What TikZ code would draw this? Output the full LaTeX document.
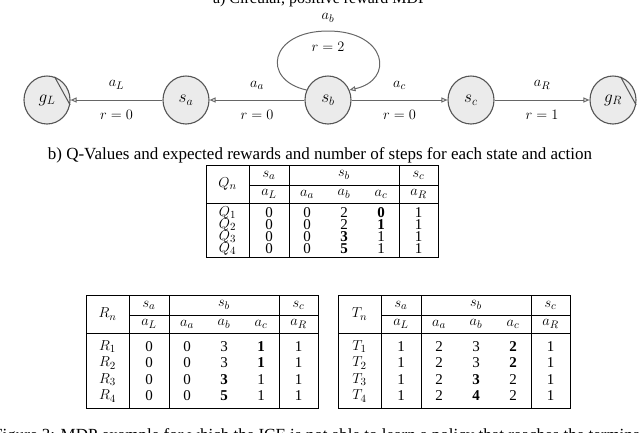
\documentclass[tikz,border=0pt]{standalone}
\usepackage{fontspec}
\setmainfont{Liberation Serif}
\usetikzlibrary{arrows.meta,shapes.geometric}
\definecolor{statefill}{HTML}{EBEBEB}
\definecolor{stateline}{HTML}{555555}
\definecolor{edgegray}{HTML}{666666}
\tikzset{
  state/.style={ellipse, draw=stateline, fill=statefill, line width=1.1pt,
    minimum width=46pt, minimum height=48pt, inner sep=0pt,
    font=\fontsize{17}{19}\selectfont},
  edge/.style={draw=edgegray, line width=1pt,
    -{Triangle[open,length=6pt,width=5pt]}},
  elabel/.style={inner sep=0pt, font=\fontsize{15}{17}\selectfont},
  cell/.style={inner sep=0pt, anchor=center, font=\fontsize{15}{17}\selectfont},
  tline/.style={line width=0.7pt, black},
}
\newcommand\trow[8]{%
  \node[cell] (#1-1) at (21.5,#2) {#3};
  \node[cell] (#1-2) at (63,#2) {#4};
  \node[cell] (#1-3) at (101,#2) {#5};
  \node[cell] (#1-4) at (138,#2) {#6};
  \node[cell] (#1-5) at (175,#2) {#7};
  \node[cell] (#1-6) at (212.5,#2) {#8};
}
\newcommand\thead[3]{% name, letter, height
  \draw[tline] (0,0) rectangle (232,#3);
  \draw[tline] (43,0) -- (43,#3);
  \draw[tline] (83,0) -- (83,#3);
  \draw[tline] (193,0) -- (193,#3);
  \draw[tline] (43,20) -- (232,20);
  \draw[tline] (0,38) -- (232,38);
  \node[cell] (#1-n) at (21.5,19) {$#2_n$};
  \node[cell] (#1-sa) at (63,10) {$s_a$};
  \node[cell] (#1-sb) at (138,10) {$s_b$};
  \node[cell] (#1-sc) at (212.5,10) {$s_c$};
  \node[cell] (#1-aL) at (63,29) {$a_L$};
  \node[cell] (#1-aa) at (101,29) {$a_a$};
  \node[cell] (#1-ab) at (138,29) {$a_b$};
  \node[cell] (#1-ac) at (175,29) {$a_c$};
  \node[cell] (#1-aR) at (212.5,29) {$a_R$};
}
\begin{document}
\begin{tikzpicture}[x=1pt,y=-1pt,font=\fontsize{16}{18}\selectfont]
\useasboundingbox (0,0) rectangle (640,432);
\clip (0,0) rectangle (640,432);
% titles
\node[anchor=base,inner sep=0pt,font=\fontsize{16}{18}\selectfont] (ta) at (320,3.5) {a) Circular, positive reward MDP};
\node[inner sep=0pt,font=\fontsize{17}{19}\selectfont] (tb) at (320,155) {b) Q-Values and expected rewards and number of steps for each state and action};
\node[anchor=base west,inner sep=0pt,font=\fontsize{17}{19}\selectfont] (cap) at (-7,440) {Figure 3: MDP example for which the ICE is not able to learn a policy that reaches the terminal state};
% MDP
\node[state] (gL) at (47,100) {$g_L$};
\node[state] (sa) at (186,100) {$s_a$};
\node[state] (sb) at (328,100) {$s_b$};
\node[state] (sc) at (471,100) {$s_c$};
\node[state] (gR) at (613,100) {$g_R$};
\draw[stateline, line width=1pt] (gL.72) -- (gL.-12);
\draw[stateline, line width=1pt] (gR.72) -- (gR.-12);
\draw[edge] (sa) -- (gL) node[elabel,midway,yshift=15pt] (laL) {$a_L$} node[elabel,midway,yshift=-15pt] (lrL) {$r=0$};
\draw[edge] (sb) -- (sa) node[elabel,midway,yshift=15pt] (laa) {$a_a$} node[elabel,midway,yshift=-15pt] (lra) {$r=0$};
\draw[edge] (sb) -- (sc) node[elabel,midway,yshift=15pt] (lac) {$a_c$} node[elabel,midway,yshift=-15pt] (lrc) {$r=0$};
\draw[edge] (sc) -- (gR) node[elabel,midway,yshift=15pt] (laR) {$a_R$} node[elabel,midway,yshift=-15pt] (lrR) {$r=1$};
\coordinate (looptop) at (328,31);
\draw[edge] (sb.155) .. controls (261,80) and (269,31) .. (looptop)
  .. controls (387,31) and (395,80) .. (sb.25);
\node[elabel] (lab) at (328,18) {$a_b$};
\node[elabel] (lrb) at (328,47) {$r=2$};
% Q table
\begin{scope}[shift={(206,165)}]
  \thead{q}{Q}{92}
  \trow{q1}{48}{$Q_1$}{0}{0}{2}{\textbf{0}}{1}
  \trow{q2}{60}{$Q_2$}{0}{0}{2}{\textbf{1}}{1}
  \trow{q3}{72}{$Q_3$}{0}{0}{\textbf{3}}{1}{1}
  \trow{q4}{83.5}{$Q_4$}{0}{0}{\textbf{5}}{1}{1}
\end{scope}
% R table
\begin{scope}[shift={(86,295)}]
  \thead{r}{R}{113}
  \trow{r1}{51.5}{$R_1$}{0}{0}{3}{\textbf{1}}{1}
  \trow{r2}{68}{$R_2$}{0}{0}{3}{\textbf{1}}{1}
  \trow{r3}{84.5}{$R_3$}{0}{0}{\textbf{3}}{1}{1}
  \trow{r4}{101}{$R_4$}{0}{0}{\textbf{5}}{1}{1}
\end{scope}
% T table
\begin{scope}[shift={(338,295)}]
  \thead{t}{T}{113}
  \trow{t1}{51.5}{$T_1$}{1}{2}{3}{\textbf{2}}{1}
  \trow{t2}{68}{$T_2$}{1}{2}{3}{\textbf{2}}{1}
  \trow{t3}{84.5}{$T_3$}{1}{2}{\textbf{3}}{2}{1}
  \trow{t4}{101}{$T_4$}{1}{2}{\textbf{4}}{2}{1}
\end{scope}
\end{tikzpicture}
\end{document}
